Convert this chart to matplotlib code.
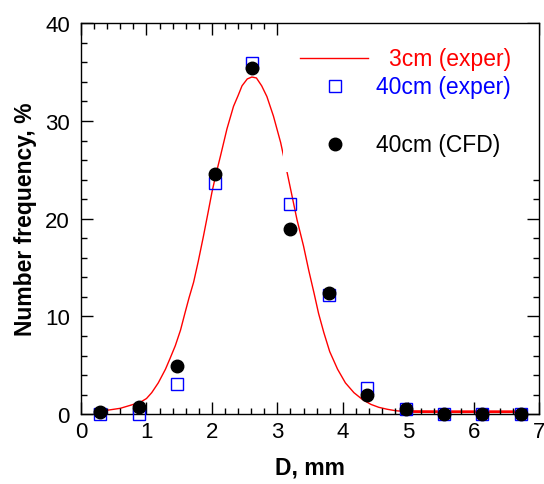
import matplotlib

matplotlib.use("Agg")
import matplotlib.pyplot as plt
from matplotlib.patches import Rectangle
from matplotlib.ticker import MultipleLocator

plt.rcParams["font.family"] = ["Liberation Sans", "DejaVu Sans"]

# bin centres (mm) shared by both point series
D = [0.29, 0.88, 1.46, 2.04, 2.62, 3.20, 3.79, 4.37, 4.96, 5.55, 6.13, 6.72]
exper_40 = [0.05, 0.05, 3.1, 23.7, 35.9, 21.5, 12.2, 2.7, 0.5, 0.05, 0.05, 0.05]
cfd_40 = [0.2, 0.7, 4.9, 24.6, 35.4, 18.9, 12.4, 1.95, 0.5, 0.05, 0.05, 0.05]

curve_x = [0.30, 0.60, 0.90, 1.00, 1.08, 1.18, 1.29, 1.36, 1.44, 1.52, 1.59,
           1.65, 1.72, 1.79, 1.87, 1.94, 2.00, 2.06, 2.13, 2.23, 2.33, 2.40,
           2.46, 2.54, 2.61, 2.68, 2.76, 2.84, 2.94, 3.05, 3.15, 3.30, 3.40,
           3.48, 3.56, 3.63, 3.71, 3.80, 3.92, 4.04, 4.17, 4.30, 4.43, 4.55,
           4.68, 4.80, 4.94]
curve_y = [0.30, 0.60, 1.20, 1.6, 2.2, 3.2, 4.6, 5.7, 7.0, 8.6, 10.4,
           11.9, 13.5, 15.6, 18.2, 20.6, 22.7, 24.5, 26.4, 29.2, 31.5, 32.6,
           33.6, 34.3, 34.5, 34.4, 33.6, 32.5, 30.5, 27.8, 24.7, 19.9, 17.2,
           14.7, 12.4, 10.3, 8.35, 6.4, 4.6, 3.2, 2.2, 1.5, 1.0, 0.7,
           0.5, 0.36, 0.27]
tail_x = [4.94, 5.50, 6.20, 6.80]
tail_y = [0.27, 0.25, 0.25, 0.25]

fig = plt.figure(figsize=(5.44, 4.85), dpi=100)
ax = fig.add_axes([0.149, 0.144, 0.842, 0.806])

ax.plot(curve_x, curve_y, color="red", lw=1.0, zorder=1.5)
ax.plot(tail_x, tail_y, color="red", lw=2.0, zorder=1.5)
ax.plot(D, exper_40, "s", ms=8.5, mfc="none", mec="blue", mew=1.0, zorder=3, clip_on=False)
ax.plot(D, cfd_40, "o", ms=9, color="black", zorder=4, clip_on=False)

# white key box hiding the curve behind it
ax.add_patch(Rectangle((0.44, 0.62), 0.56, 0.38, transform=ax.transAxes,
                       facecolor="white", edgecolor="none", zorder=2))
ax.plot([0.479, 0.626], [0.910, 0.910], color="red", lw=1.0, transform=ax.transAxes, zorder=3)
ax.text(0.672, 0.910, "3cm (exper)", color="red", fontsize=16.5, va="center", transform=ax.transAxes, zorder=3)
ax.plot([0.554], [0.839], "s", ms=8.5, mfc="none", mec="blue", mew=1.0, transform=ax.transAxes, zorder=3)
ax.text(0.643, 0.839, "40cm (exper)", color="blue", fontsize=16.5, va="center", transform=ax.transAxes, zorder=3)
ax.plot([0.554], [0.691], "o", ms=9, color="black", transform=ax.transAxes, zorder=3)
ax.text(0.643, 0.691, "40cm (CFD)", color="black", fontsize=16.5, va="center", transform=ax.transAxes, zorder=3)

ax.set_xlim(0, 7); ax.set_ylim(0, 40)
ax.xaxis.set_major_locator(MultipleLocator(1)); ax.xaxis.set_minor_locator(MultipleLocator(0.2))
ax.yaxis.set_major_locator(MultipleLocator(10)); ax.yaxis.set_minor_locator(MultipleLocator(2))
ax.tick_params(which="both", direction="in", top=True, right=True, labelsize=16, width=1.0)
ax.tick_params(which="major", length=8.5)
ax.tick_params(which="minor", length=4.3)
ax.tick_params(axis="x", pad=5); ax.tick_params(axis="y", pad=8)
for s in ax.spines.values():
    s.set_linewidth(1.0)

ax.set_xlabel("D, mm", fontsize=16.5, fontweight="bold", labelpad=10)
ax.set_ylabel("Number frequency, %", fontsize=16.5, fontweight="bold", labelpad=6)

fig.savefig("out.png", dpi=100)
